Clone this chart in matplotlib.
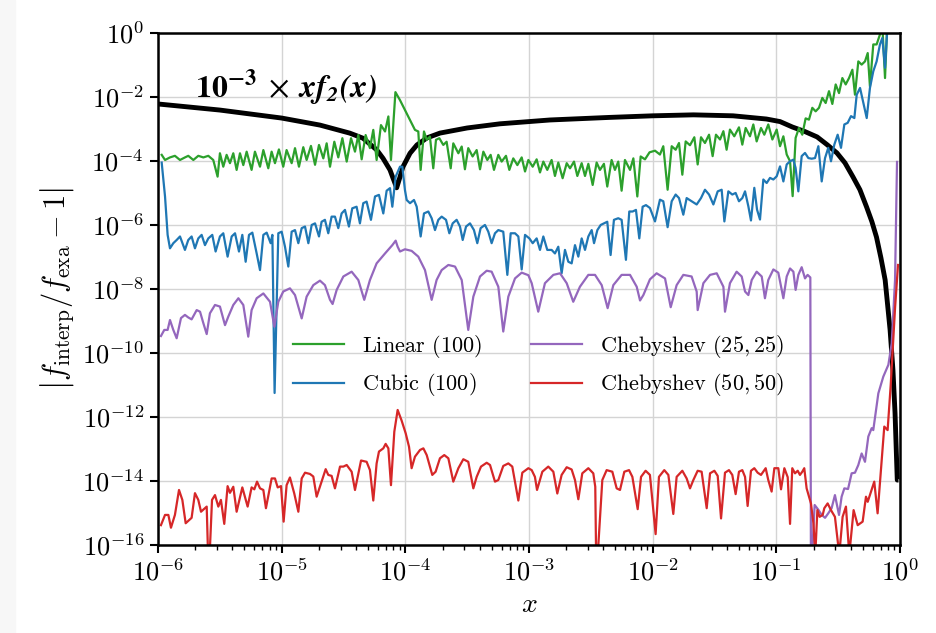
import io
import numpy as np
import matplotlib
matplotlib.use('Agg')
import matplotlib.pyplot as plt
from matplotlib.ticker import NullLocator
from matplotlib.patches import Rectangle
from matplotlib.font_manager import FontProperties
from matplotlib import mathtext

# ---Style: Computer Modern look---
plt.rcParams['font.family'] = 'serif'
plt.rcParams['font.serif'] = ['cmr10', 'DejaVu Serif']
plt.rcParams['mathtext.fontset'] = 'cm'
plt.rcParams['axes.formatter.use_mathtext'] = True

# ---Data: (log10 x, log10 y)---
# -17 marks points that fall below the axis (zero error)
ref_curve = [(-6.0, -2.22), (-5.5, -2.41), (-5.0, -2.66), (-4.69, -2.88), (-4.45, -3.13),
             (-4.342, -3.29), (-4.23, -3.66), (-4.18, -3.92), (-4.124, -4.28), (-4.10, -4.53),
             (-4.07, -4.84), (-4.043, -4.50), (-4.02, -4.19), (-3.962, -3.76), (-3.906, -3.50),
             (-3.825, -3.28), (-3.72, -3.13), (-3.50, -2.97), (-3.235, -2.84), (-2.83, -2.72),
             (-2.35, -2.64), (-2.0, -2.59), (-1.67, -2.56), (-1.35, -2.59), (-1.08, -2.69),
             (-0.97, -2.77), (-0.87, -2.94), (-0.77, -3.08), (-0.67, -3.25), (-0.59, -3.49),
             (-0.51, -3.75), (-0.445, -4.06), (-0.38, -4.5), (-0.324, -4.9), (-0.27, -5.44),
             (-0.227, -5.9), (-0.19, -6.38), (-0.154, -7.03), (-0.12, -7.72), (-0.08, -9.28),
             (-0.057, -10.53), (-0.04, -11.88), (-0.022, -13.97), (-0.012, -13.97)]

linear_100 = [(-5.970, -3.81), (-5.943, -3.97), (-5.903, -3.89), (-5.863, -3.84), (-5.822, -3.97),
              (-5.782, -3.89), (-5.755, -3.84), (-5.714, -3.97), (-5.674, -3.84), (-5.633, -3.89),
              (-5.593, -3.84), (-5.553, -3.97), (-5.518, -4.49), (-5.499, -3.76), (-5.472, -4.18),
              (-5.445, -3.81), (-5.418, -4.07), (-5.391, -3.76), (-5.364, -4.28), (-5.337, -3.76),
              (-5.310, -4.13), (-5.283, -3.71), (-5.243, -4.28), (-5.216, -3.71), (-5.175, -4.18),
              (-5.148, -3.66), (-5.108, -4.23), (-5.081, -3.71), (-5.054, -4.07), (-5.022, -3.64),
              (-4.987, -4.18), (-4.960, -3.66), (-4.919, -4.07), (-4.892, -3.60), (-4.860, -4.18),
              (-4.825, -3.57), (-4.798, -3.97), (-4.763, -3.53), (-4.730, -4.12), (-4.698, -3.50),
              (-4.663, -3.92), (-4.636, -3.45), (-4.609, -4.18), (-4.574, -3.40), (-4.542, -3.89),
              (-4.509, -3.29), (-4.474, -4.02), (-4.439, -3.29), (-4.407, -3.71), (-4.380, -3.19),
              (-4.353, -3.95), (-4.321, -3.19), (-4.286, -3.60), (-4.259, -3.03), (-4.232, -3.97),
              (-4.197, -2.88), (-4.164, -3.08), (-4.137, -2.61), (-4.116, -3.97), (-4.080, -1.85),
              (-4.043, -2.10), (-4.003, -2.41), (-3.962, -2.72), (-3.922, -3.03), (-3.895, -3.08),
              (-3.876, -4.28), (-3.849, -3.08), (-3.827, -3.34), (-3.801, -3.24), (-3.774, -4.23),
              (-3.752, -3.34), (-3.725, -3.29), (-3.693, -3.50), (-3.666, -3.40), (-3.633, -4.23),
              (-3.612, -3.45), (-3.571, -3.76), (-3.544, -3.55), (-3.518, -4.26), (-3.491, -3.60),
              (-3.456, -3.86), (-3.423, -3.66), (-3.396, -4.26), (-3.369, -3.71), (-3.337, -3.97),
              (-3.310, -3.81), (-3.283, -4.28), (-3.248, -3.81), (-3.221, -4.02), (-3.186, -3.84),
              (-3.159, -4.28), (-3.127, -3.92), (-3.094, -4.13), (-3.059, -3.89), (-3.032, -4.33),
              (-3.005, -3.97), (-2.970, -4.18), (-2.938, -3.95), (-2.911, -4.36), (-2.884, -4.02),
              (-2.852, -4.28), (-2.817, -3.97), (-2.790, -4.47), (-2.763, -4.05), (-2.728, -4.54),
              (-2.695, -4.07), (-2.668, -4.23), (-2.636, -4.02), (-2.609, -4.47), (-2.574, -4.07),
              (-2.547, -4.47), (-2.520, -4.09), (-2.485, -4.75), (-2.453, -4.05), (-2.426, -4.28),
              (-2.394, -4.09), (-2.367, -4.80), (-2.332, -3.97), (-2.305, -4.28), (-2.278, -4.02),
              (-2.251, -4.93), (-2.224, -3.97), (-2.183, -4.28), (-2.156, -3.92), (-2.124, -5.11),
              (-2.097, -3.86), (-2.062, -3.95), (-2.025, -3.73), (-1.981, -3.68), (-1.941, -3.80),
              (-1.914, -3.54), (-1.879, -4.90), (-1.846, -3.54), (-1.814, -3.65), (-1.787, -3.44),
              (-1.760, -4.43), (-1.733, -3.39), (-1.698, -3.51), (-1.663, -3.26), (-1.636, -4.11),
              (-1.609, -3.26), (-1.577, -3.44), (-1.544, -3.18), (-1.515, -3.85), (-1.488, -3.18),
              (-1.455, -3.33), (-1.428, -3.07), (-1.402, -3.65), (-1.375, -3.02), (-1.340, -3.23),
              (-1.302, -2.95), (-1.275, -3.49), (-1.248, -2.97), (-1.213, -3.23), (-1.186, -2.86),
              (-1.159, -3.39), (-1.124, -2.97), (-1.097, -3.18), (-1.065, -2.86), (-1.032, -3.33),
              (-0.997, -3.02), (-0.970, -3.54), (-0.943, -3.23), (-0.916, -3.80), (-0.889, -4.01),
              (-0.868, -5.10), (-0.844, -3.28), (-0.817, -2.97), (-0.790, -3.18), (-0.763, -2.67),
              (-0.736, -2.71), (-0.709, -2.34), (-0.682, -2.45), (-0.655, -2.34), (-0.628, -2.03),
              (-0.601, -2.19), (-0.574, -1.82), (-0.547, -2.22), (-0.520, -1.61), (-0.493, -1.88),
              (-0.466, -1.41), (-0.439, -1.61), (-0.412, -1.41), (-0.385, -1.15), (-0.364, -1.93),
              (-0.337, -0.89), (-0.310, -0.99), (-0.283, -0.89), (-0.261, -0.63), (-0.243, -1.67),
              (-0.216, -0.36), (-0.189, -0.36), (-0.162, -0.05), (-0.143, 0.26), (-0.121, -1.41),
              (-0.100, 0.57), (0.0, 1.0)]

cubic_100 = [(-5.970, -4.05), (-5.943, -5.11), (-5.922, -6.31), (-5.903, -6.73), (-5.876, -6.57),
             (-5.849, -6.47), (-5.822, -6.36), (-5.782, -6.78), (-5.755, -6.47), (-5.728, -6.36),
             (-5.701, -6.73), (-5.674, -6.42), (-5.647, -6.31), (-5.620, -6.63), (-5.593, -6.42),
             (-5.561, -6.31), (-5.534, -6.83), (-5.499, -6.36), (-5.472, -6.26), (-5.437, -6.99),
             (-5.404, -6.36), (-5.377, -6.26), (-5.345, -6.83), (-5.318, -6.31), (-5.291, -7.15),
             (-5.264, -6.31), (-5.237, -6.24), (-5.202, -6.89), (-5.175, -7.41), (-5.148, -6.31),
             (-5.121, -6.24), (-5.089, -6.57), (-5.075, -6.31), (-5.057, -11.25), (-5.027, -6.26),
             (-5.000, -6.21), (-4.973, -6.68), (-4.946, -7.30), (-4.919, -6.21), (-4.892, -6.16),
             (-4.865, -6.57), (-4.838, -6.10), (-4.811, -6.05), (-4.784, -6.57), (-4.757, -6.00),
             (-4.730, -5.95), (-4.698, -6.36), (-4.677, -5.90), (-4.650, -5.84), (-4.623, -6.26),
             (-4.596, -5.74), (-4.569, -5.74), (-4.542, -6.10), (-4.515, -5.64), (-4.488, -5.53),
             (-4.456, -6.05), (-4.429, -5.48), (-4.394, -5.43), (-4.367, -5.95), (-4.340, -5.32),
             (-4.313, -5.27), (-4.278, -5.84), (-4.245, -5.11), (-4.213, -5.06), (-4.178, -5.64),
             (-4.151, -4.93), (-4.124, -4.85), (-4.105, -5.43), (-4.078, -4.49), (-4.043, -4.18),
             (-4.024, -4.18), (-4.003, -4.91), (-3.989, -5.22), (-3.962, -5.32), (-3.930, -5.22),
             (-3.908, -5.43), (-3.876, -6.36), (-3.849, -5.64), (-3.814, -5.58), (-3.787, -5.79),
             (-3.760, -6.16), (-3.733, -5.84), (-3.706, -5.74), (-3.671, -5.84), (-3.644, -6.26),
             (-3.617, -5.95), (-3.585, -5.84), (-3.558, -6.05), (-3.536, -6.47), (-3.509, -6.05),
             (-3.477, -5.95), (-3.445, -6.16), (-3.418, -6.57), (-3.391, -6.10), (-3.356, -6.00),
             (-3.329, -6.21), (-3.302, -6.57), (-3.275, -6.26), (-3.248, -6.16), (-3.208, -6.21),
             (-3.175, -7.56), (-3.148, -6.26), (-3.113, -6.26), (-3.086, -6.36), (-3.059, -7.39),
             (-3.032, -6.31), (-2.997, -6.42), (-2.970, -6.57), (-2.938, -6.42), (-2.911, -6.78),
             (-2.884, -6.36), (-2.852, -6.78), (-2.817, -6.78), (-2.790, -6.89), (-2.763, -6.68),
             (-2.736, -7.51), (-2.709, -6.78), (-2.682, -7.15), (-2.655, -7.20), (-2.628, -6.63),
             (-2.601, -6.99), (-2.574, -6.42), (-2.547, -6.78), (-2.520, -6.36), (-2.493, -6.16),
             (-2.474, -6.57), (-2.447, -6.16), (-2.420, -6.00), (-2.394, -5.95), (-2.367, -5.90),
             (-2.340, -6.94), (-2.313, -5.84), (-2.278, -5.79), (-2.251, -5.84), (-2.216, -7.09),
             (-2.189, -5.58), (-2.162, -5.58), (-2.135, -5.53), (-2.108, -6.42), (-2.081, -5.43),
             (-2.054, -5.38), (-2.022, -5.47), (-1.981, -5.89), (-1.941, -5.21), (-1.914, -5.26),
             (-1.879, -6.07), (-1.846, -5.26), (-1.814, -5.05), (-1.787, -5.16), (-1.752, -5.68),
             (-1.725, -5.16), (-1.685, -5.26), (-1.644, -5.36), (-1.609, -5.16), (-1.577, -4.90),
             (-1.544, -5.05), (-1.509, -5.36), (-1.474, -4.95), (-1.442, -4.90), (-1.420, -5.89),
             (-1.388, -4.95), (-1.356, -5.05), (-1.329, -5.00), (-1.302, -5.26), (-1.275, -5.16),
             (-1.253, -4.95), (-1.226, -5.42), (-1.205, -5.86), (-1.178, -4.84), (-1.156, -5.52),
             (-1.132, -5.83), (-1.105, -4.58), (-1.078, -4.69), (-1.051, -4.53), (-1.024, -4.58),
             (-0.997, -4.48), (-0.970, -4.17), (-0.943, -4.64), (-0.916, -4.11), (-0.889, -4.01),
             (-0.862, -3.96), (-0.844, -4.22), (-0.822, -4.95), (-0.795, -3.85), (-0.768, -3.75),
             (-0.741, -3.91), (-0.714, -3.93), (-0.687, -3.91), (-0.660, -3.54), (-0.633, -4.64),
             (-0.606, -3.91), (-0.580, -3.59), (-0.558, -4.01), (-0.531, -3.49), (-0.504, -3.18),
             (-0.477, -3.59), (-0.450, -2.86), (-0.423, -2.81), (-0.396, -2.60), (-0.369, -2.66),
             (-0.350, -1.93), (-0.323, -1.72), (-0.296, -2.19), (-0.269, -2.66), (-0.243, -1.72),
             (-0.216, -1.20), (-0.189, -0.89), (-0.162, -0.36), (-0.143, -0.16), (-0.121, -1.09),
             (-0.105, -0.05), (-0.089, 0.36), (0.0, 0.9)]

cheb_25 = [(-5.976, -9.47), (-5.949, -9.28), (-5.922, -9.28), (-5.903, -8.97), (-5.876, -9.28),
           (-5.849, -9.54), (-5.814, -8.91), (-5.782, -8.81), (-5.755, -8.89), (-5.728, -8.95),
           (-5.687, -8.66), (-5.660, -8.71), (-5.633, -9.07), (-5.606, -9.41), (-5.580, -8.76),
           (-5.539, -8.50), (-5.499, -8.55), (-5.458, -9.13), (-5.431, -8.86), (-5.391, -8.50),
           (-5.350, -8.29), (-5.310, -8.50), (-5.270, -9.49), (-5.243, -8.66), (-5.202, -8.29),
           (-5.148, -8.14), (-5.094, -8.40), (-5.059, -9.18), (-5.027, -8.40), (-4.987, -8.08),
           (-4.933, -7.98), (-4.892, -8.19), (-4.838, -8.92), (-4.798, -8.24), (-4.744, -7.88),
           (-4.690, -7.74), (-4.650, -7.88), (-4.609, -8.34), (-4.588, -8.47), (-4.555, -8.03),
           (-4.501, -7.61), (-4.434, -7.46), (-4.380, -7.72), (-4.332, -8.34), (-4.286, -7.72),
           (-4.232, -7.20), (-4.164, -6.89), (-4.105, -6.63), (-4.078, -6.49), (-4.062, -6.68),
           (-4.043, -6.83), (-4.003, -6.76), (-3.949, -6.81), (-3.895, -6.99), (-3.841, -7.41),
           (-3.787, -8.34), (-3.747, -7.72), (-3.706, -7.41), (-3.652, -7.25), (-3.598, -7.30),
           (-3.544, -7.72), (-3.491, -9.28), (-3.450, -8.24), (-3.396, -7.61), (-3.342, -7.43),
           (-3.302, -7.46), (-3.248, -7.93), (-3.208, -9.33), (-3.167, -8.24), (-3.113, -7.67),
           (-3.059, -7.49), (-3.005, -7.57), (-2.978, -7.82), (-2.925, -8.71), (-2.871, -7.82),
           (-2.803, -7.56), (-2.749, -7.51), (-2.695, -7.82), (-2.642, -8.40), (-2.588, -7.93),
           (-2.520, -7.56), (-2.466, -7.56), (-2.412, -7.88), (-2.364, -8.60), (-2.318, -7.88),
           (-2.251, -7.56), (-2.183, -7.56), (-2.129, -7.93), (-2.102, -8.36), (-2.075, -8.19),
           (-2.022, -7.70), (-1.968, -7.51), (-1.900, -7.67), (-1.854, -8.57), (-1.806, -7.88),
           (-1.752, -7.56), (-1.685, -7.61), (-1.644, -8.08), (-1.636, -8.66), (-1.590, -7.82),
           (-1.536, -7.56), (-1.482, -7.51), (-1.428, -7.93), (-1.415, -8.71), (-1.375, -7.82),
           (-1.321, -7.46), (-1.280, -7.61), (-1.253, -8.08), (-1.226, -8.19), (-1.199, -7.72),
           (-1.159, -7.46), (-1.118, -7.61), (-1.092, -8.29), (-1.065, -7.72), (-1.024, -7.39),
           (-0.984, -7.49), (-0.943, -8.29), (-0.916, -7.61), (-0.889, -7.36), (-0.862, -7.46),
           (-0.844, -8.03), (-0.822, -7.56), (-0.795, -7.32), (-0.768, -7.67), (-0.747, -7.56),
           (-0.725, -7.64), (-0.720, -17.0), (-0.690, -14.75), (-0.660, -14.90), (-0.633, -15.06),
           (-0.606, -15.15), (-0.580, -15.01), (-0.553, -14.85), (-0.526, -14.44), (-0.493, -15.06),
           (-0.472, -14.49), (-0.450, -14.23), (-0.420, -14.25), (-0.391, -13.76), (-0.364, -13.74),
           (-0.337, -13.50), (-0.310, -13.14), (-0.283, -13.40), (-0.256, -12.61), (-0.229, -12.35),
           (-0.216, -12.41), (-0.175, -11.26), (-0.135, -10.74), (-0.094, -10.37), (-0.067, -9.70),
           (-0.040, -7.72), (-0.024, -4.03)]

cheb_50 = [(-5.976, -15.38), (-5.943, -15.06), (-5.916, -15.06), (-5.895, -15.46), (-5.863, -15.06),
           (-5.830, -14.28), (-5.803, -14.59), (-5.776, -15.32), (-5.728, -15.15), (-5.701, -14.38),
           (-5.674, -14.59), (-5.652, -14.96), (-5.606, -14.80), (-5.590, -17.0), (-5.563, -14.59),
           (-5.539, -14.44), (-5.512, -14.80), (-5.491, -14.59), (-5.464, -15.34), (-5.437, -14.16),
           (-5.418, -14.37), (-5.391, -14.18), (-5.364, -14.96), (-5.318, -14.20), (-5.275, -14.80),
           (-5.243, -14.20), (-5.221, -14.26), (-5.199, -14.02), (-5.175, -14.23), (-5.148, -14.28),
           (-5.127, -14.85), (-5.081, -13.92), (-5.054, -13.92), (-5.032, -14.20), (-5.005, -14.16),
           (-4.984, -15.27), (-4.960, -14.13), (-4.933, -13.89), (-4.898, -14.39), (-4.865, -14.96),
           (-4.838, -13.92), (-4.811, -13.74), (-4.771, -13.78), (-4.744, -13.86), (-4.717, -14.49),
           (-4.677, -14.02), (-4.644, -13.63), (-4.623, -13.81), (-4.596, -13.84), (-4.569, -14.23),
           (-4.528, -13.55), (-4.501, -13.55), (-4.474, -13.50), (-4.434, -13.71), (-4.407, -14.28),
           (-4.358, -13.36), (-4.313, -13.40), (-4.286, -13.66), (-4.259, -14.61), (-4.232, -13.45),
           (-4.213, -13.08), (-4.178, -12.98), (-4.159, -12.84), (-4.137, -12.98), (-4.116, -14.13),
           (-4.089, -12.46), (-4.062, -11.78), (-4.030, -12.11), (-3.997, -12.51), (-3.970, -12.93),
           (-3.949, -13.60), (-3.922, -13.24), (-3.881, -13.03), (-3.854, -12.98), (-3.827, -13.19),
           (-3.782, -13.81), (-3.755, -13.71), (-3.720, -13.29), (-3.685, -13.19), (-3.652, -13.29),
           (-3.612, -14.02), (-3.571, -13.60), (-3.531, -13.32), (-3.491, -13.40), (-3.450, -14.23),
           (-3.423, -13.87), (-3.388, -13.55), (-3.342, -13.43), (-3.315, -13.50), (-3.275, -14.02),
           (-3.248, -13.97), (-3.208, -13.53), (-3.167, -13.45), (-3.135, -13.55), (-3.086, -14.61),
           (-3.054, -13.74), (-3.005, -13.60), (-2.978, -13.66), (-2.952, -13.87), (-2.935, -14.28),
           (-2.892, -13.71), (-2.844, -13.55), (-2.803, -13.71), (-2.771, -14.39), (-2.736, -13.81),
           (-2.695, -13.57), (-2.655, -13.64), (-2.628, -13.97), (-2.601, -14.57), (-2.569, -13.76),
           (-2.520, -13.60), (-2.480, -13.76), (-2.464, -14.18), (-2.455, -17.0), (-2.407, -13.97),
           (-2.372, -13.66), (-2.326, -13.71), (-2.291, -14.23), (-2.264, -14.28), (-2.229, -13.71),
           (-2.191, -13.66), (-2.164, -13.87), (-2.121, -14.88), (-2.094, -13.87), (-2.057, -13.68),
           (-2.022, -13.81), (-1.976, -15.66), (-1.949, -13.87), (-1.906, -13.66), (-1.873, -13.81),
           (-1.833, -15.03), (-1.806, -13.87), (-1.760, -13.68), (-1.725, -13.92), (-1.698, -14.23),
           (-1.671, -13.97), (-1.636, -13.68), (-1.604, -13.71), (-1.563, -14.85), (-1.536, -13.76),
           (-1.501, -13.68), (-1.474, -13.84), (-1.447, -15.17), (-1.415, -13.74), (-1.383, -13.66),
           (-1.356, -13.81), (-1.329, -14.41), (-1.302, -13.71), (-1.275, -13.66), (-1.253, -13.87),
           (-1.232, -14.78), (-1.205, -13.68), (-1.178, -13.60), (-1.151, -13.74), (-1.124, -13.81),
           (-1.086, -13.60), (-1.065, -13.97), (-1.038, -14.33), (-1.016, -13.60), (-0.984, -13.60),
           (-0.962, -14.26), (-0.935, -13.60), (-0.908, -13.88), (-0.889, -15.34), (-0.871, -13.60),
           (-0.849, -13.76), (-0.827, -13.68), (-0.809, -13.81), (-0.790, -13.71), (-0.774, -13.60),
           (-0.755, -14.23), (-0.720, -14.70), (-0.700, -15.32), (-0.685, -16.3), (-0.668, -14.91),
           (-0.650, -15.12), (-0.625, -15.06), (-0.612, -14.85), (-0.585, -14.70), (-0.558, -14.91),
           (-0.526, -15.12), (-0.491, -16.3), (-0.464, -15.12), (-0.437, -14.80), (-0.410, -16.3),
           (-0.375, -14.91), (-0.342, -15.38), (-0.302, -15.27), (-0.275, -14.49), (-0.261, -14.65),
           (-0.234, -14.33), (-0.208, -14.02), (-0.181, -15.01), (-0.154, -13.66), (-0.127, -12.30),
           (-0.100, -12.41), (-0.075, -11.0), (-0.040, -8.6), (-0.016, -7.25)]

series = [(linear_100, r'Linear $(100)$', '#2ca02c'),
          (cubic_100, r'Cubic $(100)$', '#1f77b4'),
          (cheb_25, r'Chebyshev $(25, 25)$', '#9467bd'),
          (cheb_50, r'Chebyshev $(50, 50)$', '#d62728')]


def to_xy(pts):
    arr = np.array(pts)
    return 10.0**arr[:, 0], 10.0**arr[:, 1]


def bold_label():
    # bold italic only exists in the STIX math set; fall back to plain bold
    s = r'$\mathbf{10^{-3}}\;\times\;\mathbfit{xf_2(x)}$'
    try:
        mathtext.math_to_image(s, io.BytesIO(),
                               prop=FontProperties(size=17, math_fontfamily='stix'))
        return s, 'stix'
    except Exception:
        return r'$\mathbf{10^{-3}\times xf_2(x)}$', 'cm'


fig = plt.figure(figsize=(9.37, 6.33), dpi=100)
fig.add_artist(Rectangle((0, 0), 15/937, 1, transform=fig.transFigure,
                         color='#f7f7f7', zorder=-10))
ax = fig.add_axes([0.1686, 0.139, 0.7919, 0.809])

# reference curve first, error curves on top
x, y = to_xy(ref_curve)
ax.plot(x, y, color='black', lw=3.5, solid_capstyle='butt', solid_joinstyle='round')

for pts, label, color in series:
    x, y = to_xy(pts)
    ax.plot(x, y, color=color, lw=1.6, label=label)

ax.set_xscale('log')
ax.set_yscale('log')
ax.set_xlim(1e-6, 1)
ax.set_ylim(1e-16, 1)
ax.set_yticks(10.0**np.arange(-16, 1, 2))
ax.yaxis.set_minor_locator(NullLocator())

ax.grid(True, which='major', color='#d4d4d4', lw=1.0)
ax.set_axisbelow(True)
for sp in ax.spines.values():
    sp.set_linewidth(1.8)
ax.tick_params(which='major', direction='out', length=6, width=1.5, labelsize=19, pad=4)
ax.tick_params(which='minor', direction='out', length=3.6, width=1.0)

ax.set_xlabel(r'$x$', fontsize=20)
ax.set_ylabel(r'$\left|f_{\rm interp}/f_{\rm exa}-1\right|$', fontsize=22)

txt, mfam = bold_label()
ax.text(10**-5.70, 10**-1.72, txt, fontsize=23, ha='left', va='center',
        math_fontfamily=mfam)

ax.legend(ncol=2, loc='center', bbox_to_anchor=(0.513, 0.35), frameon=False,
          fontsize=16, handlelength=2.3, handletextpad=0.8, columnspacing=2.2,
          labelspacing=0.5)

plt.savefig('out.png', dpi=100)
